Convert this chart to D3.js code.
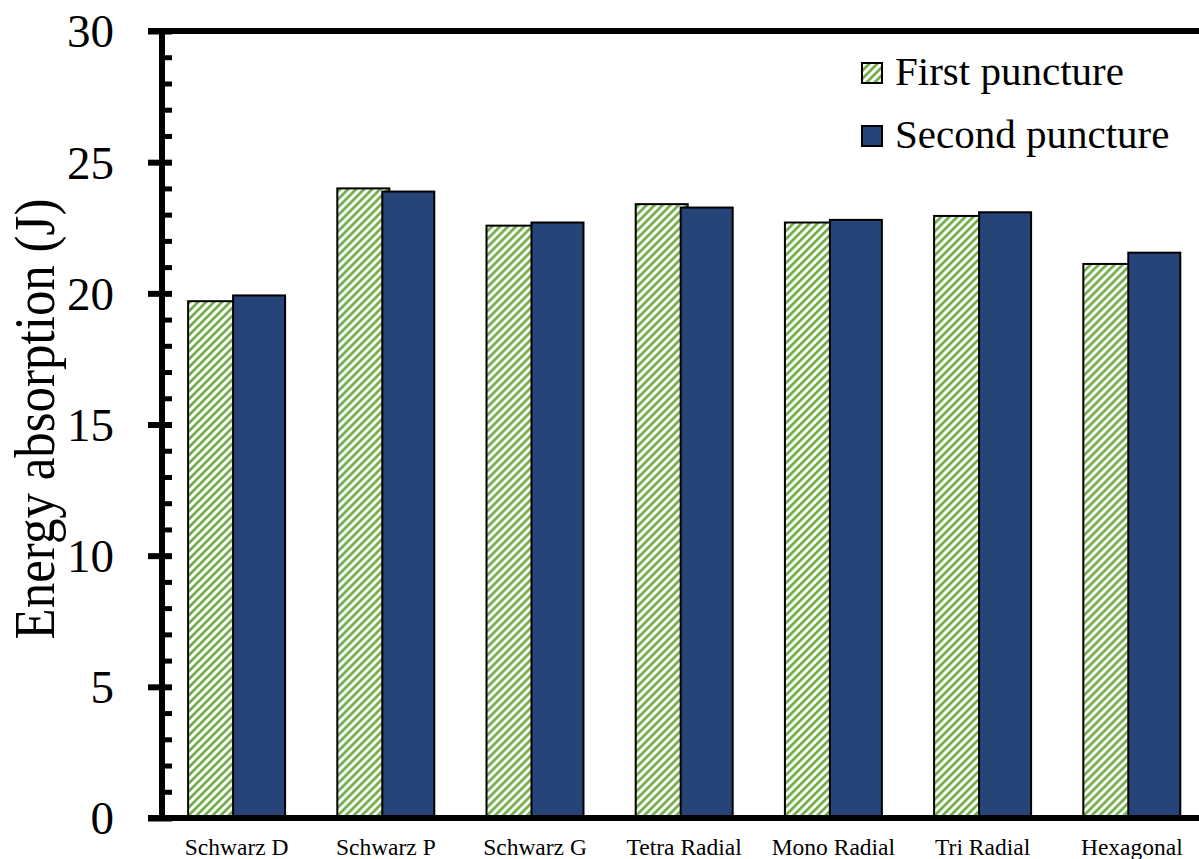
<!DOCTYPE html>
<html>
<head>
<meta charset="utf-8">
<script src="https://cdn.jsdelivr.net/npm/d3@7"></script>
<style>
  body { margin: 0; background: #fff; }
  text { font-family: "Liberation Serif", "Times New Roman", serif; fill: #000; }
</style>
</head>
<body>
<div id="content"></div>
<script>
// chart data
let categories = ['Schwarz D', 'Schwarz P', 'Schwarz G', 'Tetra Radial', 'Mono Radial', 'Tri Radial', 'Hexagonal'];
let seriesNames = ['First puncture', 'Second puncture'];
let firstPuncture = [19.7, 24.0, 22.58, 23.4, 22.7, 22.95, 21.12];
let secondPuncture = [19.92, 23.88, 22.7, 23.27, 22.8, 23.09, 21.55];
let majorTicks = [0, 5, 10, 15, 20, 25, 30];
let minorTicks = d3.range(1, 30).filter(v => v % 5 !== 0);

window.addEventListener('load', function () {
    let width = 1199;
    let height = 859;
    let left = 162, top = 31, bottom = 818;
    let step = 149.2;
    let right = left + step * categories.length;

    let svg = d3.select('#content').append('svg').attr('width', width).attr('height', height);

    let defs = svg.append('defs');
    let pat = defs.append('pattern').attr('id', 'hatch')
        .attr('patternUnits', 'userSpaceOnUse').attr('width', 8).attr('height', 8);
    pat.append('rect').attr('width', 8).attr('height', 8).attr('fill', '#fff');
    pat.append('path').attr('d', 'M-2,2 l4,-4 M0,8 l8,-8 M6,10 l4,-4')
        .attr('stroke', '#70AD47').attr('stroke-width', 2.7);

    let yScale = d3.scaleLinear().domain([0, 30]).range([bottom, top]);
    let x0 = d3.scaleBand().domain(categories).range([left, right]).paddingInner(0.35).paddingOuter(0.175);
    let barW = 52;
    let x1 = d3.scalePoint().domain(seriesNames).range([0, x0.bandwidth() - barW]);

    let rows = categories.map((c, i) => ({ cat: c, vals: [firstPuncture[i], secondPuncture[i]] }));
    let fills = ['url(#hatch)', '#264478'];

    let groups = svg.selectAll('g.grp').data(rows).enter().append('g')
        .attr('class', 'grp')
        .attr('transform', d => `translate(${x0(d.cat)},0)`);
    groups.selectAll('rect').data(d => d.vals.map((v, j) => ({ key: seriesNames[j], v: v, j: j })))
        .enter().append('rect')
        .attr('x', d => x1(d.key))
        .attr('y', d => yScale(d.v))
        .attr('width', barW)
        .attr('height', d => yScale(0) - yScale(d.v))
        .attr('fill', d => fills[d.j])
        .attr('stroke', '#000')
        .attr('stroke-width', 2);

    // top border and x axis line
    svg.append('line').attr('x1', 148).attr('x2', right).attr('y1', top).attr('y2', top)
        .attr('stroke', '#000').attr('stroke-width', 6);

    let xAxis = d3.axisBottom(x0).tickSize(0).tickPadding(20);
    let gx = svg.append('g').attr('transform', `translate(0,${bottom})`).call(xAxis);
    gx.select('.domain').remove();
    gx.selectAll('text').style('font-size', '23.5px');
    svg.append('line').attr('x1', 148).attr('x2', right).attr('y1', bottom).attr('y2', bottom)
        .attr('stroke', '#000').attr('stroke-width', 6);

    // y axis, major ticks cross the line
    let yAxis = d3.axisLeft(yScale).tickValues(majorTicks).tickSizeOuter(0).tickPadding(42);
    let gy = svg.append('g').attr('transform', `translate(${left},0)`).call(yAxis);
    gy.select('.domain').attr('stroke-width', 6).attr('d', `M0,${top}V${bottom + 3}`);
    gy.selectAll('.tick line').attr('x1', 10).attr('x2', -14).attr('stroke-width', 6);
    gy.selectAll('.tick text').style('font-size', '47px').attr('dy', '0.34em');

    let yMinor = d3.axisRight(yScale).tickValues(minorTicks).tickSize(10).tickFormat('');
    let gm = svg.append('g').attr('transform', `translate(${left},0)`).call(yMinor);
    gm.select('.domain').remove();
    gm.selectAll('.tick line').attr('stroke-width', 5);

    svg.append('text')
        .attr('transform', `translate(54,419) rotate(-90) scale(1,1.12)`)
        .attr('text-anchor', 'middle')
        .style('font-size', '51px')
        .text('Energy absorption (J)');

    // legend
    let legend = svg.selectAll('g.leg').data(seriesNames).enter().append('g')
        .attr('class', 'leg')
        .attr('transform', (d, i) => `translate(862,${63 + i * 63})`);
    legend.append('rect').attr('width', 20).attr('height', 20)
        .attr('fill', (d, i) => fills[i]).attr('stroke', '#000').attr('stroke-width', 2);
    legend.append('text').attr('x', 33).attr('y', 22).style('font-size', '41px').text(d => d);
});
</script>
</body>
</html>
